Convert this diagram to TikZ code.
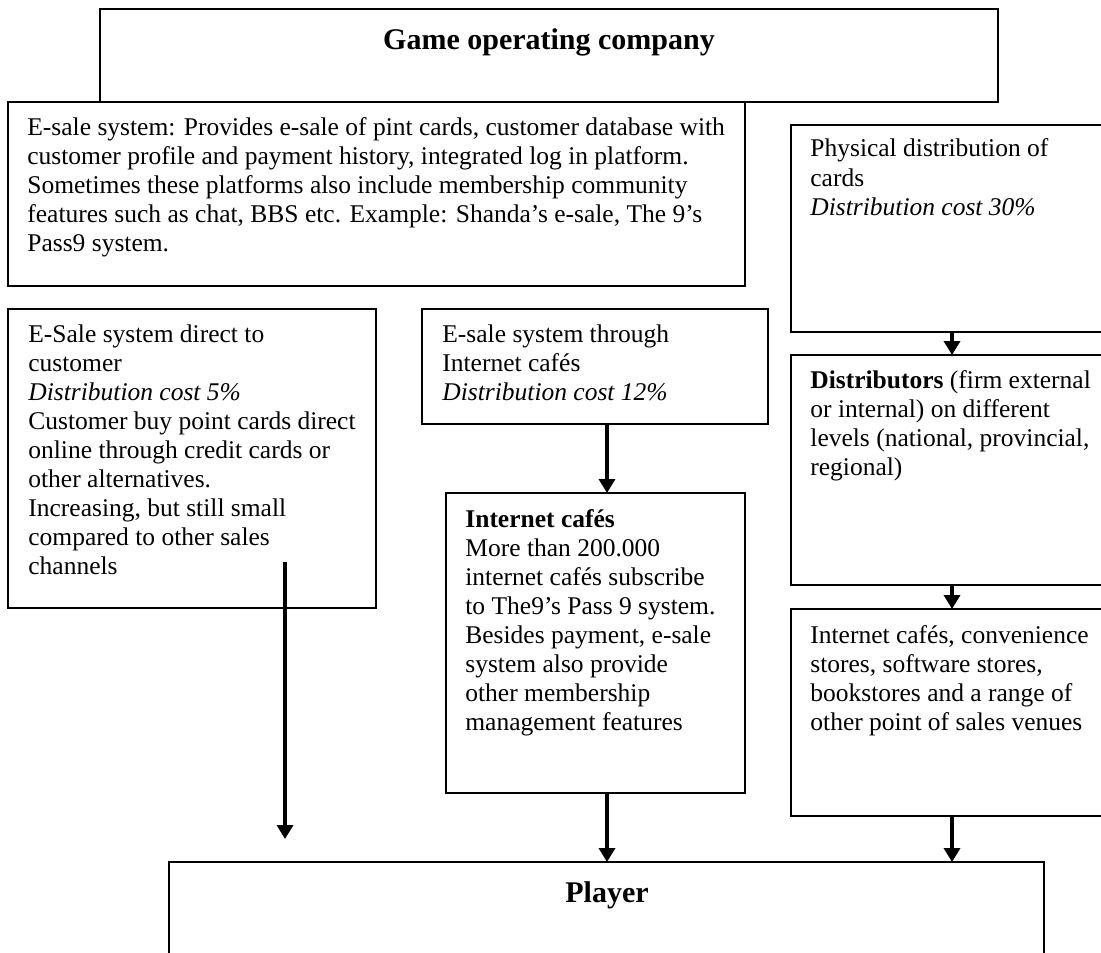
\documentclass[tikz,border=0pt]{standalone}
\usepackage{fontspec}
\setmainfont{Liberation Serif}
\usetikzlibrary{arrows.meta}

\begin{document}
\begin{tikzpicture}[x=0.5pt,y=-0.5pt,
    box/.style={draw,line width=0.9pt,inner sep=0pt,outer sep=0pt,anchor=north west},
    txt/.style={inner sep=0pt,align=left,anchor=base west,font=\fontsize{12.75}{14.5}\selectfont},
    ttl/.style={inner sep=0pt,anchor=base,font=\fontsize{15}{18}\selectfont\bfseries},
    arr/.style={line width=1.8pt,-{Triangle[length=7pt,width=8pt]}}]
    \useasboundingbox (0,0) rectangle (1101,952);
    \clip (0,0) rectangle (1101,952);
    % Company
    \node[box,minimum width=449pt,minimum height=46.5pt] (company) at (100,9) {};
    \node[ttl] (companytxt) at (549,50) {Game operating company};
    % E-sale system (text nodes sit on the baseline of their last line)
    \node[box,minimum width=368.5pt,minimum height=92pt] (esale) at (8,102) {};
    \node[txt] (esaletxt) at (27,251) {E-sale system: Provides e-sale of pint cards, customer database with\\
        customer profile and payment history, integrated log in platform.\\
        Sometimes these platforms also include membership community\\
        features such as chat, BBS etc. Example: Shanda’s e-sale, The 9’s\\
        Pass9 system.};
    % Physical distribution
    \node[box,minimum width=162pt,minimum height=103.5pt] (phys) at (791,125) {};
    \node[txt] (phystxt) at (810,215) {Physical distribution of\\ cards\\ \textit{Distribution cost 30\%}};
    % Direct to customer
    \node[box,minimum width=184pt,minimum height=149.5pt] (direct) at (8,309) {};
    \node[txt] (directtxt) at (28,574) {E-Sale system direct to\\ customer\\ \textit{Distribution cost 5\%}\\
        Customer buy point cards direct\\ online through credit cards or\\ other alternatives.\\
        Increasing, but still small\\ compared to other sales\\ channels};
    % Through internet cafes
    \node[box,minimum width=173pt,minimum height=57.5pt] (through) at (422,309) {};
    \node[txt] (throughtxt) at (442,400) {E-sale system through\\ Internet cafés\\ \textit{Distribution cost 12\%}};
    \node[box,minimum width=149.5pt,minimum height=150pt] (icafe) at (446,493) {};
    \node[txt] (icafetxt) at (465,730) {\textbf{Internet cafés}\\ More than 200.000\\ internet cafés subscribe\\
        to The9’s Pass 9 system.\\ Besides payment, e-sale\\ system also provide\\ other membership\\ management features};
    % Distributors and venues
    \node[box,minimum width=162pt,minimum height=115pt] (dist) at (791,355) {};
    \node[txt] (disttxt) at (810,475) {\textbf{Distributors} (firm external\\ or internal) on different\\ levels (national, provincial,\\ regional)};
    \node[box,minimum width=162pt,minimum height=103.5pt] (shops) at (791,609) {};
    \node[txt] (shopstxt) at (810,730) {Internet cafés, convenience\\ stores, software stores,\\ bookstores and a range of\\ other point of sales venues};
    % Player
    \node[box,minimum width=437.5pt,minimum height=50pt] (player) at (169,862) {};
    \node[ttl] (playertxt) at (607,902) {Player};
    % Arrows
    \coordinate (xmid) at (607,0);
    \coordinate (xright) at (952,0);
    \draw[arr] (through.south -| xmid) -- (icafe.north -| xmid);
    \draw[arr] (phys.south -| xright) -- (dist.north -| xright);
    \draw[arr] (dist.south -| xright) -- (shops.north -| xright);
    \draw[arr] (icafe.south -| xmid) -- (player.north -| xmid);
    \draw[arr] (shops.south -| xright) -- (player.north -| xright);
    \coordinate (dstart) at (285,562);
    \coordinate (dend) at (285,839);
    \draw[arr] (dstart) -- (dend);
\end{tikzpicture}
\end{document}
